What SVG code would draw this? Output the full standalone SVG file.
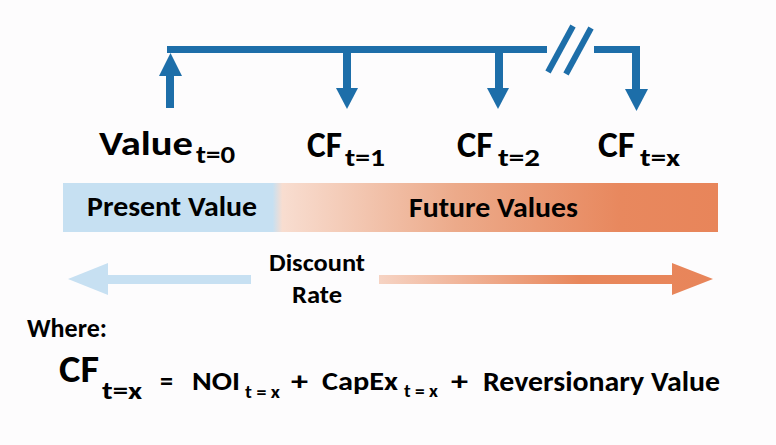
<svg xmlns="http://www.w3.org/2000/svg" width="776" height="445" viewBox="0 0 776 445">
<defs>
<style>
.t{font-family:Carlito,"Open Sans","Liberation Sans",sans-serif;font-weight:bold;fill:#000}
.blue{fill:#1d6ea9}
</style>
<linearGradient id="band" x1="63" y1="0" x2="718" y2="0" gradientUnits="userSpaceOnUse">
<stop offset="0" stop-color="#c6e0f2"/>
<stop offset="0.32" stop-color="#c6e0f2"/>
<stop offset="0.335" stop-color="#f8ddd0"/>
<stop offset="0.6" stop-color="#ecaa8a"/>
<stop offset="0.85" stop-color="#e8885e"/>
<stop offset="1" stop-color="#e8855a"/>
</linearGradient>
<linearGradient id="rarrow" x1="379" y1="0" x2="713" y2="0" gradientUnits="userSpaceOnUse">
<stop offset="0" stop-color="#f6d3c3"/>
<stop offset="0.6" stop-color="#e8875c"/>
<stop offset="1" stop-color="#e8855a"/>
</linearGradient>
</defs>
<rect width="776" height="445" fill="#fdfcfd"/>
<g id="connectors">
<rect class="blue" x="167" y="46" width="380" height="7"/>
<rect class="blue" x="594" y="46" width="46" height="7"/>
<line x1="548" y1="72" x2="573" y2="26" stroke="#1d6ea9" stroke-width="6"/>
<line x1="566" y1="74" x2="591" y2="28" stroke="#1d6ea9" stroke-width="6"/>
<rect class="blue" x="166" y="75" width="8" height="33"/>
<polygon class="blue" points="159,76 182,76 170.5,53"/>
<rect class="blue" x="343" y="53" width="8" height="36"/>
<polygon class="blue" points="336,88 358,88 347,109"/>
<rect class="blue" x="495" y="53" width="8" height="36"/>
<polygon class="blue" points="487,88 509,88 498,109"/>
<rect class="blue" x="632" y="46" width="8" height="44"/>
<polygon class="blue" points="625,89 648,89 636.5,111"/>
</g>
<g id="label-value">
<text class="t" x="99" y="155" font-size="35" textLength="94" lengthAdjust="spacingAndGlyphs">Value</text>
<text class="t" x="196" y="163" font-size="24" textLength="39" lengthAdjust="spacingAndGlyphs">t=0</text>
</g>
<g id="label-cf1">
<text class="t" x="307" y="157" font-size="36" textLength="35" lengthAdjust="spacingAndGlyphs">CF</text>
<text class="t" x="345" y="166" font-size="24" textLength="40" lengthAdjust="spacingAndGlyphs">t=1</text>
</g>
<g id="label-cf2">
<text class="t" x="457" y="157" font-size="36" textLength="36" lengthAdjust="spacingAndGlyphs">CF</text>
<text class="t" x="498" y="166" font-size="24" textLength="42" lengthAdjust="spacingAndGlyphs">t=2</text>
</g>
<g id="label-cfx">
<text class="t" x="598" y="157" font-size="36" textLength="37" lengthAdjust="spacingAndGlyphs">CF</text>
<text class="t" x="640" y="166" font-size="24" textLength="40" lengthAdjust="spacingAndGlyphs">t=x</text>
</g>
<g id="band-node">
<rect x="63" y="183" width="655" height="49" fill="url(#band)"/>
<text class="t" x="87" y="216" font-size="28" textLength="170" lengthAdjust="spacingAndGlyphs">Present Value</text>
<text class="t" x="409" y="217" font-size="28" textLength="169" lengthAdjust="spacingAndGlyphs">Future Values</text>
</g>
<g id="discount">
<polygon fill="#c7e0f2" points="68,279 108,263 108,275 251,275 251,284 108,284 108,295"/>
<polygon fill="url(#rarrow)" points="379,275 672,275 672,263 713,279 672,295 672,284 379,284"/>
<text class="t" x="269" y="271" font-size="24" textLength="96" lengthAdjust="spacingAndGlyphs">Discount</text>
<text class="t" x="292" y="303" font-size="24" textLength="50" lengthAdjust="spacingAndGlyphs">Rate</text>
</g>
<g id="formula">
<text class="t" x="27" y="337" font-size="26" textLength="80" lengthAdjust="spacingAndGlyphs">Where:</text>
<text class="t" x="59" y="382" font-size="38" textLength="40" lengthAdjust="spacingAndGlyphs">CF</text>
<text class="t" x="102" y="399" font-size="24" textLength="40" lengthAdjust="spacingAndGlyphs">t=x</text>
<text class="t" x="160" y="390" font-size="27" textLength="13" lengthAdjust="spacingAndGlyphs">=</text>
<text class="t" x="192" y="390" font-size="27" textLength="48" lengthAdjust="spacingAndGlyphs">NOI</text>
<text class="t" x="245" y="398" font-size="19" textLength="35" lengthAdjust="spacingAndGlyphs">t = x</text>
<text class="t" x="291" y="390" font-size="27" textLength="17" lengthAdjust="spacingAndGlyphs">+</text>
<text class="t" x="322" y="390" font-size="27" textLength="76" lengthAdjust="spacingAndGlyphs">CapEx</text>
<text class="t" x="404" y="397" font-size="19" textLength="34" lengthAdjust="spacingAndGlyphs">t = x</text>
<text class="t" x="451" y="390" font-size="27" textLength="17" lengthAdjust="spacingAndGlyphs">+</text>
<text class="t" x="483" y="391" font-size="28" textLength="237" lengthAdjust="spacingAndGlyphs">Reversionary Value</text>
</g>
</svg>
